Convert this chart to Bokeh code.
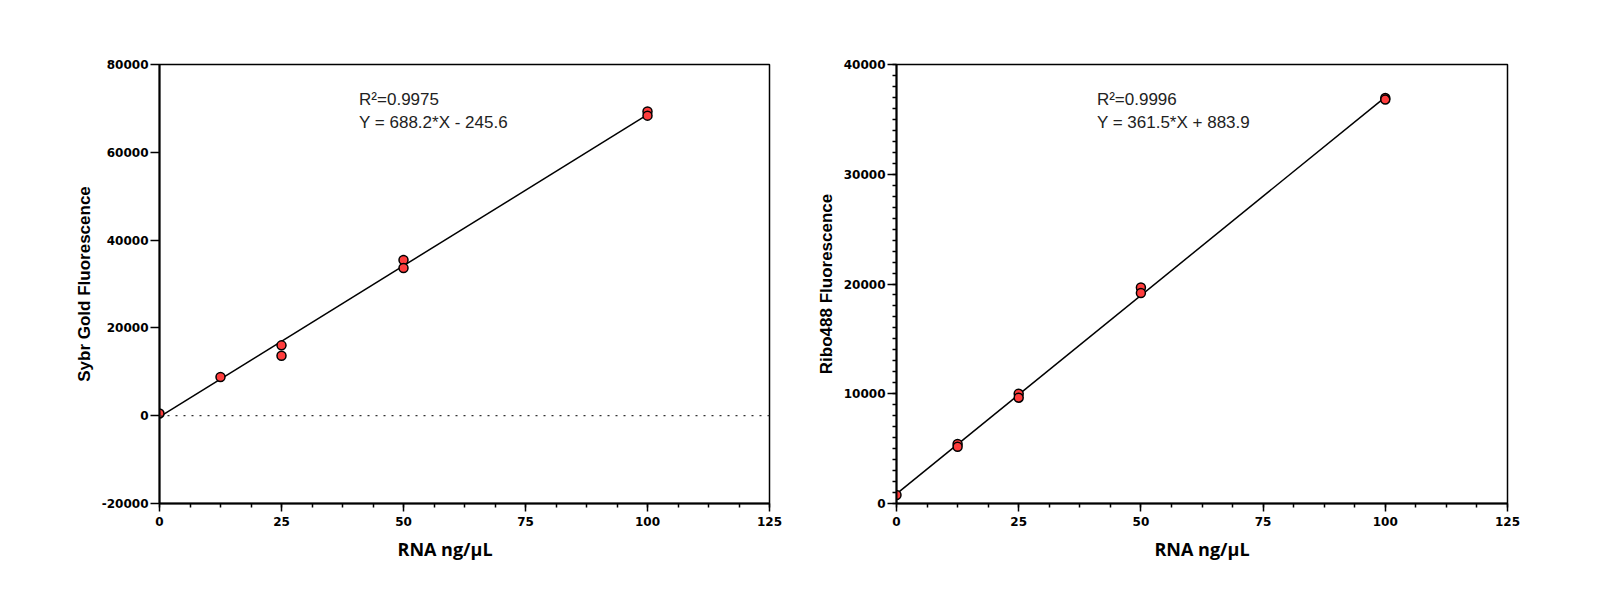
import numpy as np
from bokeh.plotting import figure
from bokeh.layouts import row
from bokeh.models import Range1d, FixedTicker, Span, Title
from bokeh.core.properties import value
from bokeh.embed import file_html
from bokeh.resources import INLINE

# ---------------- data ----------------
sybr_x = [0, 12.5, 25, 25, 50, 50, 100, 100]
sybr_y = [520, 8820, 16020, 13670, 35480, 33660, 69300, 68350]
sybr_slope = 688.2
sybr_intercept = -245.6
sybr_r2_text = "R²=0.9975"
sybr_eq_text = "Y = 688.2*X - 245.6"

ribo_x = [0, 12.5, 12.5, 25, 25, 50, 50, 100, 100]
ribo_y = [770, 5420, 5170, 10000, 9640, 19690, 19180, 36950, 36800]
ribo_slope = 361.5
ribo_intercept = 883.9
ribo_r2_text = "R²=0.9996"
ribo_eq_text = "Y = 361.5*X + 883.9"

fit_x = [0, 100]

x_ticks = [0, 25, 50, 75, 100, 125]
x_labels = ["0", "25", "50", "75", "100", "125"]
sybr_y_ticks = [-20000, 0, 20000, 40000, 60000, 80000]
sybr_y_labels = ["-20000", "0", "20000", "40000", "60000", "80000"]
ribo_y_ticks = [0, 10000, 20000, 30000, 40000]
ribo_y_labels = ["0", "10000", "20000", "30000", "40000"]

x_title = "RNA ng/µL"
sybr_y_title = "Sybr Gold Fluorescence"
ribo_y_title = "Ribo488 Fluorescence"

RED = "#ff3d3d"
TICK_FONT = "DejaVu Sans"
ANN_FONT = "Liberation Sans"
TITLE_FONT = "Open Sans"


def make_fig(width, border_left, border_right, y_range, y_ticks, y_labels,
             y_minor, y_title):
    p = figure(width=width, height=598, output_backend="svg",
               toolbar_location=None,
               x_range=Range1d(0, 125), y_range=Range1d(*y_range),
               min_border_left=border_left, min_border_right=border_right,
               min_border_top=64, min_border_bottom=95)
    p.xgrid.visible = False
    p.ygrid.visible = False
    p.outline_line_color = "black"
    p.outline_line_width = 1.5
    p.background_fill_color = "white"
    p.border_fill_color = "white"

    xa = p.xaxis[0]
    xa.ticker = FixedTicker(ticks=x_ticks,
                            minor_ticks=list(np.arange(0, 125.01, 6.25)))
    xa.major_label_overrides = {t: l for t, l in zip(x_ticks, x_labels)}
    xa.axis_line_width = 2
    xa.major_tick_line_width = 1.5
    xa.minor_tick_line_width = 1.5
    xa.major_tick_out = 8
    xa.major_tick_in = 0
    xa.minor_tick_out = 4
    xa.minor_tick_in = 0
    xa.major_label_standoff = 5
    xa.major_label_text_font = TICK_FONT
    xa.major_label_text_font_style = "bold"
    xa.major_label_text_font_size = "12px"
    xa.major_label_text_color = "black"

    ya = p.yaxis[0]
    ya.ticker = FixedTicker(ticks=y_ticks, minor_ticks=y_minor)
    ya.major_label_overrides = {t: l for t, l in zip(y_ticks, y_labels)}
    ya.axis_line_width = 2
    ya.major_tick_line_width = 1.5
    ya.minor_tick_line_width = 1.5
    ya.major_tick_out = 9
    ya.major_tick_in = 0
    ya.minor_tick_out = 4
    ya.minor_tick_in = 0
    ya.major_label_standoff = 2
    ya.major_label_text_font = TICK_FONT
    ya.major_label_text_font_style = "bold"
    ya.major_label_text_font_size = "12px"
    ya.major_label_text_color = "black"
    ya.axis_label = y_title
    ya.axis_label_text_font = ANN_FONT
    ya.axis_label_text_font_style = "bold"
    ya.axis_label_text_font_size = "17px"
    ya.axis_label_text_color = "black"
    ya.axis_label_standoff = 5
    return p


# ---------------- left panel ----------------
p1 = make_fig(790, 159, 21, (-20000, 80000), sybr_y_ticks, sybr_y_labels,
              [], sybr_y_title)
p1.add_layout(Span(location=0, dimension="width", line_color="#333333",
                   line_width=1.2, line_dash="2 6"))
p1.line(fit_x, [sybr_slope * x + sybr_intercept for x in fit_x],
        line_color="black", line_width=1.5)
p1.scatter(sybr_x, sybr_y, size=9, fill_color=RED, line_color="black",
           line_width=1.5)
p1.text(x=[40.9, 40.9], y=[72000, 66780], text=[sybr_r2_text, sybr_eq_text],
        text_font=value(ANN_FONT), text_font_size="17px",
        text_baseline="middle", text_align="left", text_color="#222222")
p1.add_layout(Title(text=x_title, align="left", offset=238, standoff=13,
                    text_font=TITLE_FONT, text_font_style="bold",
                    text_font_size="18px", text_color="black"), "below")

# ---------------- right panel ----------------
p2 = make_fig(810, 106, 93, (0, 40000), ribo_y_ticks, ribo_y_labels,
              list(range(0, 40001, 1000)), ribo_y_title)
p2.line(fit_x, [ribo_slope * x + ribo_intercept for x in fit_x],
        line_color="black", line_width=1.5)
p2.scatter(ribo_x, ribo_y, size=9, fill_color=RED, line_color="black",
           line_width=1.5)
p2.text(x=[41.0, 41.0], y=[36770, 34730], text=[ribo_r2_text, ribo_eq_text],
        text_font=value(ANN_FONT), text_font_size="17px",
        text_baseline="middle", text_align="left", text_color="#222222")
p2.add_layout(Title(text=x_title, align="center", standoff=13,
                    text_font=TITLE_FONT, text_font_style="bold",
                    text_font_size="18px", text_color="black"), "below")

layout = row(p1, p2)
open("out.html", "w").write(file_html(layout, INLINE))
